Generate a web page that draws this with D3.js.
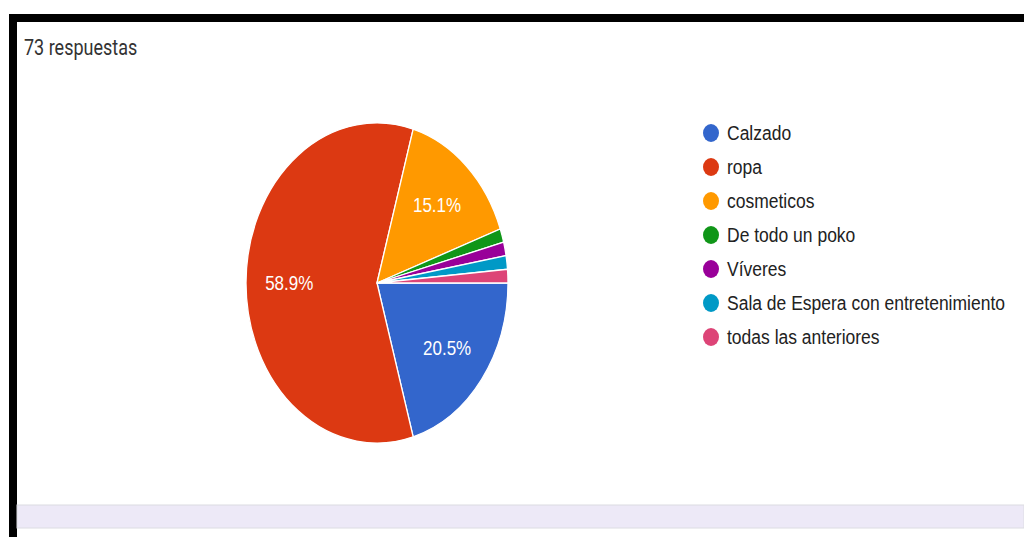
<!DOCTYPE html>
<html>
<head>
<meta charset="utf-8">
<script src="https://cdn.jsdelivr.net/npm/d3@7"></script>
<style>
  html, body { margin: 0; padding: 0; background: #fff; }
  svg { display: block; }
</style>
</head>
<body>
<svg id="chart" width="1024" height="537"></svg>
<script>
// Survey answers (73 respondents)
const categories = ["Calzado", "ropa", "cosmeticos", "De todo un poko", "Víveres", "Sala de Espera con entretenimiento", "todas las anteriores"];
const counts = [15, 43, 11, 1, 1, 1, 1];
const colors = ["#3366cc", "#dc3912", "#ff9900", "#109618", "#990099", "#0099c6", "#dd4477"];
const totalLabel = "73 respuestas";

const svg = d3.select("#chart");
const W = 1024, H = 537;
const stretch = 1.2; // the whole drawing is a little taller than wide

// Frame: thick black top and left rules, lavender footer band
svg.append("rect").attr("x", 9).attr("y", 14).attr("width", W - 9).attr("height", 8).attr("fill", "#000");
svg.append("rect").attr("x", 9).attr("y", 14).attr("width", 8).attr("height", H - 14).attr("fill", "#000");
svg.append("rect").attr("x", 17).attr("y", 505).attr("width", W - 17).attr("height", 23)
  .attr("fill", "#ede9f7").attr("stroke", "#dcdce2").attr("stroke-width", 1);

// Place a text element at (x, y) with the vertical stretch applied
function stretchedText(parent, x, y) {
  return parent.append("text")
    .attr("transform", `translate(${x},${y}) scale(1,${stretch})`);
}

stretchedText(svg, 24, 55)
  .attr("font-family", "Roboto, sans-serif")
  .attr("font-size", 18)
  .attr("fill", "#333")
  .text(totalLabel);

// Pie
const cx = 377, cy = 283, rx = 131, ry = 160;
const total = d3.sum(counts);
const data = categories.map((c, i) => ({ name: c, value: counts[i], color: colors[i] }));

const pie = d3.pie().value(d => d.value).sort(null)
  .startAngle(Math.PI / 2).endAngle(Math.PI / 2 + 2 * Math.PI);
const arcs = pie(data);
const arc = d3.arc().innerRadius(0).outerRadius(rx);

const g = svg.append("g").attr("transform", `translate(${cx},${cy}) scale(1,${ry / rx})`);
g.selectAll("path").data(arcs).join("path")
  .attr("d", arc)
  .attr("fill", d => d.data.color)
  .attr("stroke", "#fff")
  .attr("stroke-width", 1.3)
  .attr("vector-effect", "non-scaling-stroke");

// Percentage labels on the larger slices
const fmt = d3.format(".1f");
const labelK = 0.67;
const labels = svg.append("g");
arcs.filter(d => d.data.value / total > 0.05).forEach(d => {
  const a = (d.startAngle + d.endAngle) / 2;
  stretchedText(labels, cx + Math.sin(a) * rx * labelK, cy - Math.cos(a) * ry * labelK)
    .attr("text-anchor", "middle")
    .attr("dominant-baseline", "central")
    .attr("font-family", "'Liberation Sans', Arial, sans-serif")
    .attr("font-size", 17)
    .attr("fill", "#fff")
    .text(fmt(d.data.value / total * 100) + "%");
});

// Legend
const legend = svg.append("g");
const ly = d3.scalePoint().domain(categories).range([133, 337]);
const items = legend.selectAll("g").data(data).join("g")
  .attr("transform", d => `translate(711,${ly(d.name)})`);
items.append("ellipse").attr("rx", 8).attr("ry", 9).attr("fill", d => d.color);
items.each(function (d) {
  stretchedText(d3.select(this), 16, 0)
    .attr("dominant-baseline", "central")
    .attr("font-family", "'Liberation Sans', Arial, sans-serif")
    .attr("font-size", 17.5)
    .attr("fill", "#222")
    .text(d.name);
});
</script>
</body>
</html>
